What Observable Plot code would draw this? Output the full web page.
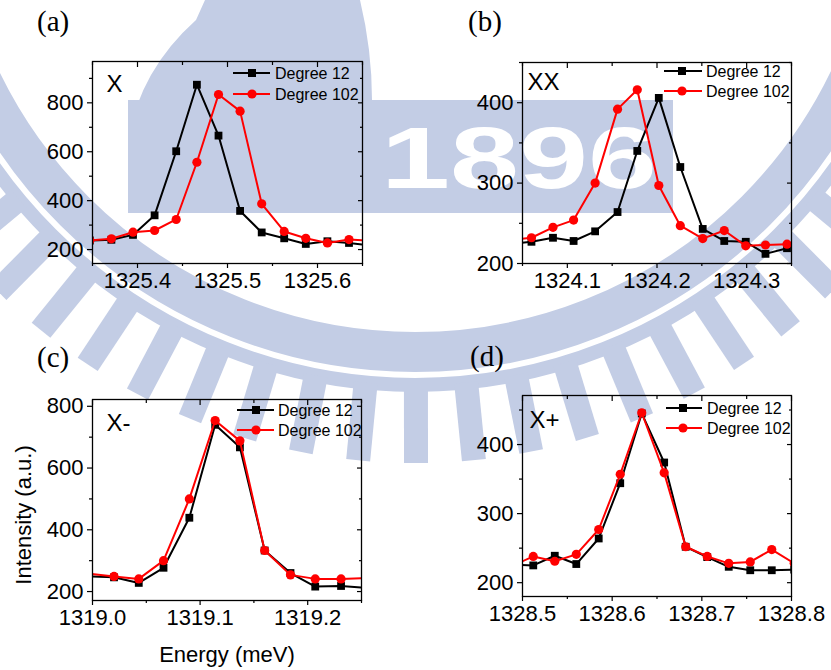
<!DOCTYPE html>
<html>
<head>
<meta charset="utf-8">
<script src="https://cdn.jsdelivr.net/npm/d3@7"></script>
<script src="https://cdn.jsdelivr.net/npm/@observablehq/plot@0.6"></script>
<style>
  body { margin: 0; background: #ffffff; }
  #root { position: relative; width: 831px; height: 670px; overflow: hidden; font-family: "Liberation Sans", Arial, sans-serif; }
  .panel { position: absolute; }
  .panel svg { display: block; overflow: visible; }
</style>
</head>
<body>
<div id="root"></div>
<script>
// ---------------- DATA ----------------
const seriesNames = ["Degree 12", "Degree 102"];

// (a) X
const energyA = [1325.347, 1325.371, 1325.395, 1325.419, 1325.443, 1325.466, 1325.490, 1325.514, 1325.538, 1325.563, 1325.587, 1325.611, 1325.635, 1325.659];
const deg12A  = [237, 240, 260, 340, 602, 874, 666, 358, 270, 246, 223, 234, 227, 217];
const deg102A = [237, 244, 271, 278, 323, 557, 834, 766, 387, 274, 246, 227, 241, 236];

// (b) XX
const energyB = [1324.036, 1324.060, 1324.084, 1324.107, 1324.131, 1324.156, 1324.178, 1324.202, 1324.226, 1324.251, 1324.275, 1324.299, 1324.321, 1324.345];
const deg12B  = [224, 227, 232, 228, 240, 264, 340, 406, 320, 243, 228, 227, 212, 219];
const deg102B = [229, 232, 245, 254, 300, 392, 416, 297, 247, 231, 241, 222, 223, 224];

// (c) X-
const energyC = [1318.996, 1319.020, 1319.043, 1319.066, 1319.090, 1319.114, 1319.137, 1319.160, 1319.184, 1319.207, 1319.231, 1319.255];
const deg12C  = [249, 246, 228, 277, 439, 740, 667, 333, 260, 216, 218, 212];
const deg102C = [258, 249, 241, 300, 500, 754, 688, 333, 254, 241, 241, 244];

// (d) X+
const energyD = [1328.488, 1328.512, 1328.536, 1328.560, 1328.585, 1328.609, 1328.633, 1328.658, 1328.682, 1328.706, 1328.730, 1328.754, 1328.778, 1328.803];
const deg12D  = [226, 225, 239, 227, 264, 344, 445, 374, 252, 237, 223, 218, 218, 219];
const deg102D = [224, 238, 231, 241, 277, 357, 446, 359, 252, 238, 228, 230, 248, 228];

// tick values
const xTicksA = [1325.4, 1325.5, 1325.6], xMinorA = [1325.35, 1325.45, 1325.55, 1325.65];
const xTicksB = [1324.1, 1324.2, 1324.3], xMinorB = [1324.05, 1324.15, 1324.25, 1324.35];
const xTicksC = [1319.0, 1319.1, 1319.2], xMinorC = [1319.05, 1319.15, 1319.25];
const xTicksD = [1328.5, 1328.6, 1328.7, 1328.8], xMinorD = [1328.55, 1328.65, 1328.75];
const yTicksA = [200, 400, 600, 800], yMinorA = [300, 500, 700, 900];
const yTicksB = [200, 300, 400], yMinorB = [250, 350, 450];
const yTicksC = [200, 400, 600, 800], yMinorC = [300, 500, 700];
const yTicksD = [200, 300, 400], yMinorD = [250, 350, 450];

const panelTags = ["(a)", "(b)", "(c)", "(d)"];
const peakNames = ["X", "XX", "X-", "X+"];
const xTitle = "Energy (meV)";
const yTitle = "Intensity (a.u.)";
const watermarkText = "1896";

// ---------------- BACKGROUND (watermark + titles) ----------------
const root = d3.select("#root");
const bg = root.append("svg")
  .attr("width", 831).attr("height", 670)
  .style("position", "absolute").style("left", "0px").style("top", "0px");
const wm = "#c3cde5";
const cx = 415, cy = -130;
bg.append("circle").attr("cx", cx).attr("cy", cy).attr("r", 482)
  .attr("fill", "none").attr("stroke", wm).attr("stroke-width", 40);
bg.append("circle").attr("cx", cx).attr("cy", cy).attr("r", 515)
  .attr("fill", "none").attr("stroke", wm).attr("stroke-width", 14);
for (let a = -50.5; a <= 51; a += 5.6) {
  bg.append("rect")
    .attr("transform", `translate(${cx},${cy}) rotate(${a})`)
    .attr("x", -12).attr("y", 515).attr("width", 24).attr("height", 78)
    .attr("fill", wm);
}
bg.append("path")
  .attr("d", "M128,213 L128,140 Q140,70 196,20 L205,0 L360,0 Q372,50 372,100 Z")
  .attr("fill", wm);
bg.append("rect").attr("x", 128).attr("y", 100).attr("width", 545).attr("height", 113).attr("fill", wm);
bg.append("text").attr("x", 381).attr("y", 188)
  .attr("textLength", 276).attr("lengthAdjust", "spacingAndGlyphs")
  .attr("font-family", "Liberation Sans, Arial, sans-serif").attr("font-weight", "bold")
  .attr("font-size", 87).attr("fill", "#ffffff").text(watermarkText);

// panel tags (serif)
const tagPos = [[37, 31], [468, 31], [37, 367], [470, 366]];
panelTags.forEach((t, i) => {
  bg.append("text").attr("x", tagPos[i][0]).attr("y", tagPos[i][1])
    .attr("font-family", "Liberation Serif, Times New Roman, serif")
    .attr("font-size", 29).attr("fill", "#000").text(t);
});
// axis titles
bg.append("text").attr("transform", "translate(31,515) rotate(-90)")
  .attr("text-anchor", "middle").attr("font-family", "Liberation Sans, Arial, sans-serif")
  .attr("font-size", 22).attr("fill", "#000").text(yTitle);
bg.append("text").attr("x", 227).attr("y", 662)
  .attr("text-anchor", "middle").attr("font-family", "Liberation Sans, Arial, sans-serif")
  .attr("font-size", 22).attr("fill", "#000").text(xTitle);

// ---------------- PANELS ----------------
function toRows(xs, ys) { return xs.map((x, i) => ({x, y: ys[i]})); }
const blank = () => "";

function makePanel(cfg) {
  const r12 = toRows(cfg.xs, cfg.s12);
  const r102 = toRows(cfg.xs, cfg.s102);
  const plot = Plot.plot({
    width: cfg.width, height: cfg.height,
    marginLeft: cfg.m[0], marginRight: cfg.m[1], marginTop: cfg.m[2], marginBottom: cfg.m[3],
    style: { background: "transparent", fontFamily: "Liberation Sans, Arial, sans-serif", overflow: "visible" },
    x: { domain: cfg.xDomain, label: null },
    y: { domain: cfg.yDomain, label: null },
    marks: [
      // bottom axis (outward)
      Plot.axisX({ ticks: cfg.xTicks, tickSize: 5, tickPadding: 4, tickFormat: d => d.toFixed(1), fontSize: 22, label: null, strokeWidth: 1.2 }),
      Plot.axisX({ ticks: cfg.xMinor, tickSize: 3, tickFormat: blank, label: null, strokeWidth: 1.2 }),
      // top axis (inward)
      Plot.axisX({ anchor: "top", ticks: cfg.xTicks, tickSize: 5, dy: 5, tickFormat: blank, label: null, strokeWidth: 1.2 }),
      Plot.axisX({ anchor: "top", ticks: cfg.xMinor, tickSize: 3, dy: 3, tickFormat: blank, label: null, strokeWidth: 1.2 }),
      // left axis (outward)
      Plot.axisY({ ticks: cfg.yTicks, tickSize: 5, tickPadding: 4, tickFormat: d => String(d), fontSize: 22, label: null, strokeWidth: 1.2 }),
      Plot.axisY({ ticks: cfg.yMinor, tickSize: 3, tickFormat: blank, label: null, strokeWidth: 1.2 }),
      // right axis (inward)
      Plot.axisY({ anchor: "right", ticks: cfg.yTicks, tickSize: 5, dx: -5, tickFormat: blank, label: null, strokeWidth: 1.2 }),
      Plot.axisY({ anchor: "right", ticks: cfg.yMinor, tickSize: 3, dx: -3, tickFormat: blank, label: null, strokeWidth: 1.2 }),
      // data
      Plot.line(r12, { x: "x", y: "y", stroke: "#000000", strokeWidth: 2, clip: true }),
      Plot.dot(r12, { x: "x", y: "y", symbol: "square", r: 4.4, fill: "#000000", stroke: "none", clip: true }),
      Plot.line(r102, { x: "x", y: "y", stroke: "#ff0000", strokeWidth: 2, clip: true }),
      Plot.dot(r102, { x: "x", y: "y", symbol: "circle", r: 4.6, fill: "#ff0000", stroke: "none", clip: true }),
      Plot.frame({ stroke: "#000000", strokeWidth: 1.3 }),
      // peak name
      Plot.text([cfg.name], { text: d => d, frameAnchor: "top-left", textAnchor: "start", lineAnchor: "top", dx: cfg.nameOff[0], dy: cfg.nameOff[1], fontSize: 24, fill: "#000" })
    ]
  });

  // legend inside the frame (top-right)
  const svg = d3.select(plot);
  const R = cfg.width - cfg.m[1], T = cfg.m[2];
  const L = cfg.leg; // [lineStartOffset, lineEndOffset, markerOffset, textOffset, row1, row2]
  const g = svg.append("g").attr("text-anchor", "start");
  const rows = [
    { name: seriesNames[0], color: "#000000", sym: "square", y: T + L[4] },
    { name: seriesNames[1], color: "#ff0000", sym: "circle", y: T + L[5] }
  ];
  rows.forEach(rw => {
    g.append("line").attr("x1", R - L[0]).attr("x2", R - L[1]).attr("y1", rw.y).attr("y2", rw.y)
      .attr("stroke", rw.color).attr("stroke-width", 2);
    if (rw.sym === "square") {
      g.append("rect").attr("x", R - L[2] - 4).attr("y", rw.y - 4).attr("width", 8).attr("height", 8).attr("fill", rw.color);
    } else {
      g.append("circle").attr("cx", R - L[2]).attr("cy", rw.y).attr("r", 4.6).attr("fill", rw.color);
    }
    g.append("text").attr("x", R - L[3]).attr("y", rw.y).attr("dy", "0.36em")
      .attr("text-anchor", "start")
      .attr("font-family", "Liberation Sans, Arial, sans-serif").attr("font-size", 16)
      .attr("fill", "#000").text(rw.name);
  });

  const div = root.append("div").attr("class", "panel")
    .style("left", cfg.left + "px").style("top", cfg.top + "px")
    .style("width", cfg.width + "px").style("height", cfg.height + "px");
  div.node().appendChild(plot);
}

makePanel({ xs: energyA, s12: deg12A, s102: deg102A, name: peakNames[0],
  xDomain: [1325.35, 1325.65], yDomain: [143, 969], xTicks: xTicksA, xMinor: xMinorA, yTicks: yTicksA, yMinor: yMinorA,
  left: 0, top: 0, width: 420, height: 310, m: [92, 58, 61, 47], nameOff: [14, 13], leg: [129, 92, 110, 87, 12, 33] });

makePanel({ xs: energyB, s12: deg12B, s102: deg102B, name: peakNames[1],
  xDomain: [1324.05, 1324.35], yDomain: [200, 450], xTicks: xTicksB, xMinor: xMinorB, yTicks: yTicksB, yMinor: yMinorB,
  left: 420, top: 0, width: 411, height: 310, m: [102, 40, 62, 47], nameOff: [5, 10], leg: [127, 89, 109, 85, 9, 29] });

makePanel({ xs: energyC, s12: deg12C, s102: deg102C, name: peakNames[2],
  xDomain: [1319.0, 1319.25], yDomain: [171, 822], xTicks: xTicksC, xMinor: xMinorC, yTicks: yTicksC, yMinor: yMinorC,
  left: 0, top: 330, width: 420, height: 340, m: [92, 59, 69, 70], nameOff: [14, 14], leg: [124, 87, 105, 83, 11, 31] });

makePanel({ xs: energyD, s12: deg12D, s102: deg102D, name: peakNames[3],
  xDomain: [1328.5, 1328.8], yDomain: [180, 471], xTicks: xTicksD, xMinor: xMinorD, yTicks: yTicksD, yMinor: yMinorD,
  left: 420, top: 330, width: 411, height: 340, m: [102, 40, 65, 74], nameOff: [7, 15], leg: [125, 89, 108, 84, 13, 33] });
</script>
</body>
</html>
